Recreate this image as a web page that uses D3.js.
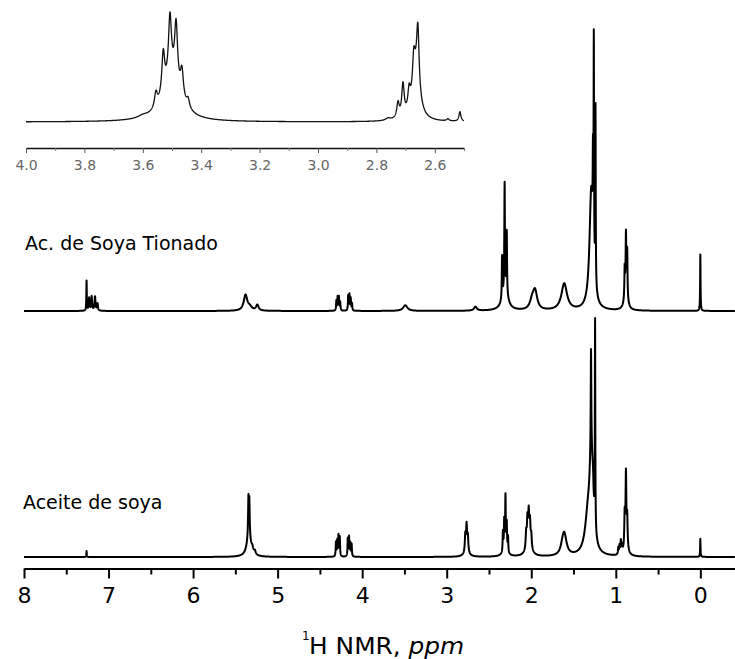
<!DOCTYPE html>
<html>
<head>
<meta charset="utf-8">
<script src="https://cdn.jsdelivr.net/npm/d3@7"></script>
<style>
body { margin: 0; background: #fff; }
</style>
</head>
<body>
<script>
var ppmTicks = [8, 7, 6, 5, 4, 3, 2, 1, 0];
var ppmMinor = [7.5, 6.5, 5.5, 4.5, 3.5, 2.5, 1.5, 0.5];
var insetTicks = [4.0, 3.8, 3.6, 3.4, 3.2, 3.0, 2.8, 2.6];
var insetMinor = [3.9, 3.7, 3.5, 3.3, 3.1, 2.9, 2.7, 2.5];
var seriesNames = ["Ac. de Soya Tionado", "Aceite de soya"];

// peaks: [ppm, intensity, half width (ppm)]
var tionadoPeaks = [
  [7.26, 10.6, 0.003], [7.23, 4.5, 0.006], [7.20, 5, 0.006], [7.16, 5, 0.007], [7.13, 2.5, 0.006],
  [5.38, 5.5, 0.025], [5.33, 1.2, 0.03], [5.24, 2, 0.018],
  [4.305, 3.5, 0.004], [4.29, 4.8, 0.004], [4.275, 4.8, 0.004], [4.26, 3, 0.004],
  [4.165, 5.3, 0.004], [4.15, 5.6, 0.004], [4.135, 4.2, 0.004], [4.12, 2.5, 0.004],
  [3.49, 2, 0.03], [2.66, 1.4, 0.02],
  [2.345, 15, 0.004], [2.315, 38, 0.004], [2.29, 22, 0.004], [2.31, 7, 0.04],
  [1.99, 3, 0.03], [1.955, 6.5, 0.03],
  [1.61, 9.5, 0.04],
  [1.29, 42, 0.025], [1.27, 30, 0.004], [1.26, 77, 0.003], [1.24, 63, 0.003],
  [0.895, 10, 0.004], [0.88, 19, 0.004], [0.865, 16, 0.004], [0.88, 8, 0.02],
  [0.00, 20, 0.003]
];

var soyaPeaks = [
  [7.26, 2.1, 0.003],
  [5.345, 13, 0.005], [5.335, 12, 0.005], [5.34, 7, 0.03], [5.30, 1.5, 0.012], [5.27, 1.2, 0.012],
  [4.31, 5, 0.004], [4.295, 5.5, 0.004], [4.28, 7.3, 0.004], [4.265, 6.8, 0.004],
  [4.17, 6.3, 0.004], [4.155, 6.8, 0.004], [4.14, 4.6, 0.004], [4.125, 4.3, 0.004],
  [2.78, 5.5, 0.006], [2.765, 8, 0.006], [2.75, 5, 0.006], [2.765, 3, 0.025],
  [2.335, 7, 0.004], [2.32, 10, 0.004], [2.305, 18.5, 0.004], [2.29, 9.5, 0.004], [2.275, 5.5, 0.004], [2.31, 2.5, 0.03],
  [2.06, 5.5, 0.007], [2.045, 9, 0.007], [2.03, 10.5, 0.007], [2.015, 8, 0.007], [2.00, 4.5, 0.007], [2.03, 4, 0.035],
  [1.61, 8, 0.032], [1.635, 1.2, 0.02],
  [1.29, 30, 0.025], [1.33, 12, 0.04], [1.293, 36, 0.004], [1.27, 8, 0.01], [1.245, 74, 0.003],
  [0.97, 2.5, 0.005], [0.955, 3, 0.005], [0.94, 4.5, 0.005], [0.925, 2.5, 0.005],
  [0.895, 11, 0.005], [0.88, 23, 0.005], [0.865, 10, 0.005], [0.88, 6, 0.02],
  [0.00, 6.4, 0.003]
];

var insetPeaks = [
  [3.60, 2, 0.02],
  [3.50, 40, 0.035],
  [3.555, 14, 0.006], [3.53, 39, 0.006], [3.507, 56, 0.006], [3.486, 54, 0.006], [3.466, 25, 0.006], [3.445, 8, 0.006],
  [2.76, 2, 0.01],
  [2.665, 40, 0.015],
  [2.726, 14, 0.005], [2.709, 30, 0.005], [2.688, 18, 0.005], [2.672, 28, 0.005], [2.658, 55, 0.005],
  [2.555, 2, 0.005], [2.514, 9, 0.004]
];

var width = 735, height = 659;

var svg = d3.select("body").append("svg")
    .attr("width", width)
    .attr("height", height)
    .style("font-family", "'DejaVu Sans', sans-serif");

function spectrum(peaks, hi, lo, step) {
  var xs = [];
  for (var p = hi; p >= lo; p -= step) xs.push(p);
  peaks.forEach(function(pk){ if (pk[0] <= hi && pk[0] >= lo) xs.push(pk[0]); });
  xs.sort(function(a, b){ return b - a; });
  return xs.map(function(p){
    var v = 0;
    peaks.forEach(function(pk){
      var d = (p - pk[0]) / pk[2];
      v += pk[1] / (1 + d * d);
    });
    return [p, v];
  });
}

// main axis
var x = d3.scaleLinear().domain([8, -0.41]).range([24, 735]);
var yTop = d3.scaleLinear().domain([0, 100]).range([311, 29]);
var yBot = d3.scaleLinear().domain([0, 100]).range([557, 275]);

var topLine = d3.line()
    .x(function(d){ return x(d[0]); })
    .y(function(d){ return yTop(d[1]); });
var botLine = d3.line()
    .x(function(d){ return x(d[0]); })
    .y(function(d){ return yBot(d[1]); });

svg.append("path")
    .datum(spectrum(tionadoPeaks, 8, -0.41, 0.001))
    .attr("d", topLine)
    .attr("fill", "none")
    .attr("stroke", "#000")
    .attr("stroke-width", 2)
    .attr("stroke-linejoin", "round");

svg.append("path")
    .datum(spectrum(soyaPeaks, 8, -0.41, 0.001))
    .attr("d", botLine)
    .attr("fill", "none")
    .attr("stroke", "#000")
    .attr("stroke-width", 2)
    .attr("stroke-linejoin", "round");

var axisY = 568.5;
var gx = svg.append("g")
    .attr("transform", "translate(0," + axisY + ")")
    .call(d3.axisBottom(x).tickValues(ppmTicks).tickSize(10).tickSizeOuter(0).tickPadding(8.5)
      .tickFormat(d3.format("d")));
gx.select(".domain").attr("stroke-width", 2);
gx.selectAll(".tick line").attr("stroke-width", 2);
gx.selectAll(".tick text")
    .attr("font-size", 22)
    .attr("font-family", "'DejaVu Sans', sans-serif")
    .attr("fill", "#000");

var gxm = svg.append("g")
    .attr("transform", "translate(0," + axisY + ")")
    .call(d3.axisBottom(x).tickValues(ppmMinor).tickSize(6).tickFormat(""));
gxm.select(".domain").remove();
gxm.selectAll(".tick line").attr("stroke-width", 2);

// axis title
var title = svg.append("g").attr("transform", "translate(309,654) scale(1.08,1)");
var tt = title.append("text")
    .attr("font-size", 23)
    .attr("fill", "#000");
tt.append("tspan").text("H NMR, ");
tt.append("tspan").attr("font-style", "italic").text("ppm");
svg.append("text")
    .attr("x", 302)
    .attr("y", 640)
    .attr("font-size", 12)
    .attr("fill", "#000")
    .text("1");

// series labels
svg.append("text")
    .attr("x", 25).attr("y", 250)
    .attr("font-size", 19)
    .attr("fill", "#000")
    .text(seriesNames[0]);
svg.append("text")
    .attr("x", 23).attr("y", 509)
    .attr("font-size", 19)
    .attr("fill", "#000")
    .text(seriesNames[1]);

// inset
var xi = d3.scaleLinear().domain([4.0, 2.5]).range([26, 464]);
var yi = d3.scaleLinear().domain([0, 100]).range([122, 14]);

svg.append("path")
    .datum(spectrum(insetPeaks, 4.0, 2.5, 0.0005))
    .attr("d", d3.line()
      .x(function(d){ return xi(d[0]); })
      .y(function(d){ return yi(d[1]); }))
    .attr("fill", "none")
    .attr("stroke", "#111")
    .attr("stroke-width", 1.3)
    .attr("stroke-linejoin", "round");

var gi = svg.append("g")
    .attr("transform", "translate(0,148)")
    .call(d3.axisBottom(xi).tickValues(insetTicks).tickSize(5).tickSizeOuter(0).tickPadding(7)
      .tickFormat(d3.format(".1f")));
gi.select(".domain").attr("stroke-width", 1.3).attr("stroke", "#111");
gi.selectAll(".tick line").attr("stroke", "#555");
gi.selectAll(".tick text")
    .attr("font-size", 14)
    .attr("font-family", "'DejaVu Sans', sans-serif")
    .attr("fill", "#666");

var gim = svg.append("g")
    .attr("transform", "translate(0,148)")
    .call(d3.axisBottom(xi).tickValues(insetMinor).tickSize(3).tickFormat(""));
gim.select(".domain").remove();
gim.selectAll(".tick line").attr("stroke", "#777");
</script>
</body>
</html>
